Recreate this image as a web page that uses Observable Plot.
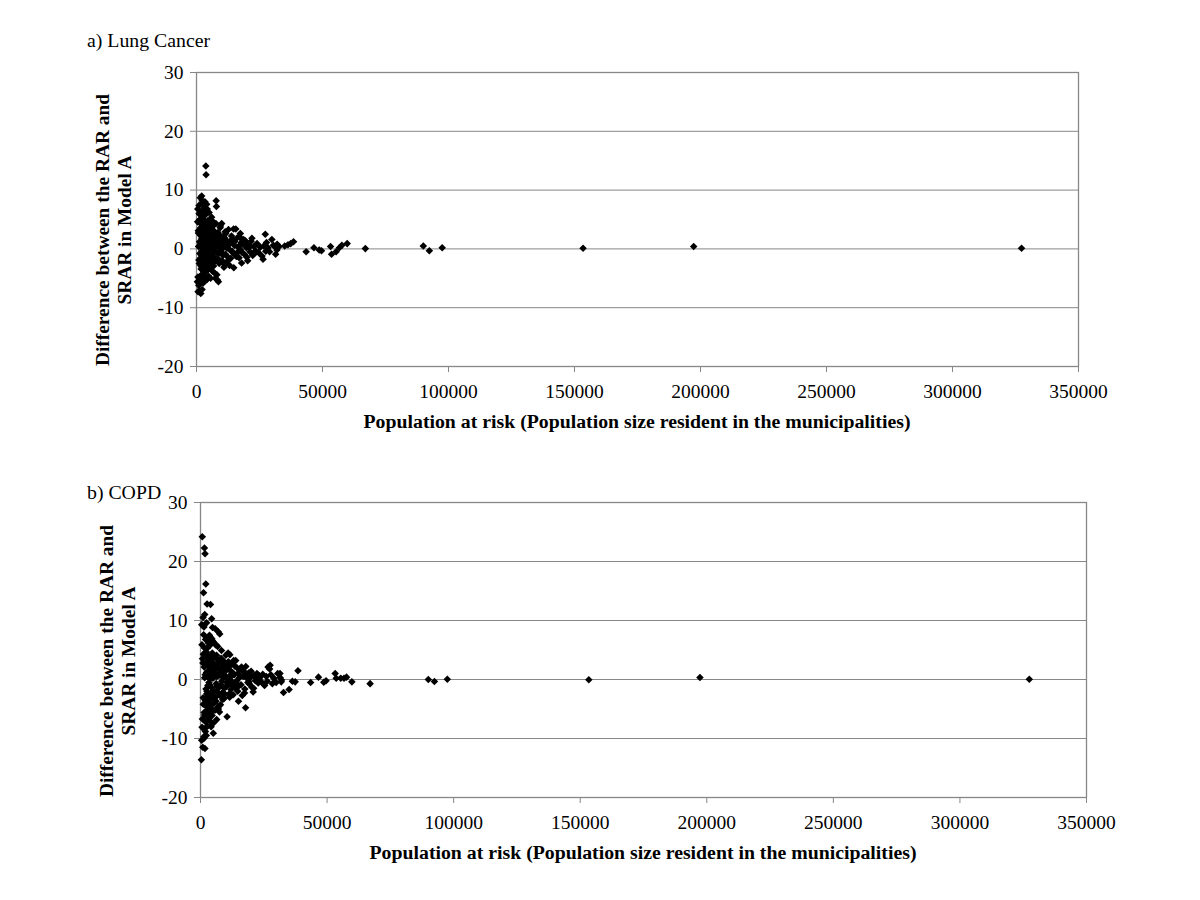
<!DOCTYPE html>
<html>
<head>
<meta charset="utf-8">
<script src="https://cdn.jsdelivr.net/npm/d3@7"></script>
<script src="https://cdn.jsdelivr.net/npm/@observablehq/plot@0.6"></script>
<style>
  body { margin: 0; background: #fff; }
  #page { position: relative; width: 1200px; height: 900px; font-family: "Liberation Serif", "Times New Roman", serif; color: #000; overflow: hidden; }
  #page svg text { font-family: "Liberation Serif", "Times New Roman", serif !important; }
  .svgbox { position: absolute; left: 0; }
  .ptitle { position: absolute; font-size: 19.8px; line-height: 20px; white-space: nowrap; }
  .xlab { position: absolute; width: 800px; text-align: center; font-weight: bold; font-size: 19.8px; line-height: 20px; white-space: nowrap; }
  .ylab { position: absolute; width: 340px; height: 44px; text-align: center; font-weight: bold; font-size: 19.4px; line-height: 22px; white-space: nowrap; transform: rotate(-90deg); }
</style>
</head>
<body>
<div id="page"></div>
<script>
// Population at risk (resident population of each municipality), shared by both panels
const population = [
  8900, 9300, 9800, 10400, 11000, 11400, 12100, 12800, 13500, 14300,
  15100, 15800, 16700, 17400, 18100, 19200, 20000, 21000, 22000, 23000,
  1150, 1320, 1680, 2080, 2380, 2680, 2880, 3080, 3380, 3580,
  350, 500, 620, 700, 800, 900, 1000, 1100, 1200, 1300,
  1350, 1400, 1500, 1550, 1600, 1700, 1750, 1800, 1850, 1900,
  2000, 2050, 2100, 2150, 2200, 2300, 2350, 2400, 2450, 2500,
  450, 580, 750, 950, 1050, 1250, 1450, 1650, 1950, 2250,
  2600, 2650, 2700, 2800, 2850, 2900, 3000, 3050, 3100, 3200,
  2550, 2750, 2950, 3150, 3350, 3550, 3650, 3850, 3950, 4150,
  3250, 3300, 3400, 3450, 3500, 3600, 3700, 3750, 3800, 3900,
  4000, 4050, 4100, 4200, 4300, 4350, 4400, 4500, 4600, 4650,
  4250, 4450, 4550, 4750, 4850, 5050, 5250, 5450, 5650, 5950,
  4700, 4800, 4900, 5000, 5100, 5200, 5300, 5400, 5500, 5600,
  5700, 5800, 5900, 6000, 6100, 6200, 6300, 6400, 6500, 6600,
  6700, 6800, 6900, 7000, 7100, 7200, 7400, 7500, 7600, 7800,
  6150, 6350, 6450, 6750, 7050, 7300, 7700, 8100, 8400, 8700,
  7900, 8000, 8200, 8300, 8500, 8600, 8800, 9000, 9200, 9400,
  9500, 9700, 9900, 10000, 10200, 10300, 10500, 10700, 10900, 11100,
  11300, 11500, 11600, 11800, 12000, 12200, 12500, 12700, 12900, 13100,
  13300, 13600, 13900, 14100, 14400, 14700, 14800, 15000, 15300, 15600,
  16000, 16200, 16500, 16900, 17200, 17500, 17800, 17900, 18300, 18700,
  19000, 19400, 19800, 20300, 20800, 21200, 21700, 22300, 22800, 23400,
  24000, 24600, 25300, 26000, 26400, 26700, 27300, 27500, 27800, 28400,
  29000, 29900, 30500, 31400, 31500, 31900, 32000, 32800, 35000, 36300,
  37400, 38500, 43500, 46600, 48700, 49600, 53200, 53600, 55400, 56700,
  57700, 59800, 67000, 90000, 92400, 97500, 153400, 197300, 327400
];

// a) Lung Cancer: difference between RAR and SRAR (Model A)
const lungCancerDiff = [
  -1.8, 2.3, -0.2, 1.0, -2.6, 2.9, 0.1, -1.9, 1.4, -0.6,
  1.2, -1.3, 0.4, 2.6, -0.6, 1.0, -1.4, 0.3, 1.8, -0.8,
  -7.1, 5.0, -2.8, 2.9, -4.9, 6.4, -0.1, 3.3, -5.4, 1.7,
  -5.6, 6.8, -7.3, 3.1, 0.4, -6.2, 7.4, -2.5, 1.2, -0.8,
  5.9, -5.1, 8.7, -1.6, 2.3, -7.6, 0.9, 6.3, -3.4, 4.2,
  -4.4, 9.0, 1.8, -0.3, -6.9, 5.2, -2.0, 7.8, 0.2, -1.1,
  4.6, -4.8, 2.7, -1.9, 6.0, -5.4, 0.6, 3.6, -3.0, 8.2,
  3.8, -5.8, 6.6, -1.4, 1.0, 4.9, -3.9, 0.1, 7.1, -2.7,
  -0.6, 5.5, -4.2, 2.0, 8.0, -2.2, 0.8, 3.0, -1.3, 6.1,
  1.5, -4.9, 4.4, -0.9, 5.8, 2.6, 14.1, -3.1, 12.6, 0.3,
  -2.4, 7.6, 1.1, -5.2, 3.3, -0.5, 4.8, -1.8, 2.1, 0.0,
  6.8, -3.6, 1.6, -1.0, 3.9, 0.5, -2.6, 5.0, -0.2, 2.4,
  -4.6, 2.9, -0.7, 6.2, 1.4, -3.3, 0.7, 4.1, -1.6, -5.0,
  3.5, -2.1, 0.9, 5.4, -0.4, 2.2, -3.8, 1.3, -1.2, 4.6,
  0.2, -2.9, 3.1, -0.6, 1.9, -4.1, 0.4, -5.0, 2.6, 8.2,
  -1.5, 3.8, 0.6, -2.3, 1.7, -0.3, 4.3, -4.4, 2.4, -5.6,
  7.2, -1.7, 1.0, -5.3, 2.8, -0.8, 0.3, -2.5, 1.6, 3.6,
  3.9, -0.5, 1.3, 4.3, -2.0, 0.7, -1.1, 2.0, -3.1, 0.4,
  1.8, -0.9, 2.6, -2.3, 0.5, 1.2, -1.4, 3.3, 0.0, -2.8,
  0.9, -1.6, 2.2, -0.4, 1.5, 3.4, -3.2, 0.6, -1.0, 3.4,
  -0.7, 1.9, 0.3, -1.5, 2.0, -0.2, 1.1, -2.4, 0.8, 1.6,
  -0.9, 1.4, 0.2, -2.0, 0.7, -0.5, 1.3, -1.1, 0.4, -0.3,
  0.9, -0.6, 0.3, -1.2, -1.75, 0.5, 2.5, -0.4, 1.1, 0.2,
  -0.5, 1.6, 0.6, -0.9, 0.3, -0.2, 0.8, 0.4, 0.5, 0.7,
  0.9, 1.2, -0.5, 0.2, -0.2, -0.3, 0.4, -0.9, -0.5, 0.2,
  0.6, 0.9, 0.05, 0.5, -0.3, 0.2, 0.1, 0.4, 0.1
];

// b) COPD: difference between RAR and SRAR (Model A)
const copdDiff = [
  2.7, -3.2, 1.4, -0.5, 3.0, -2.4, 0.9, -1.0, 2.3, -0.2,
  -1.1, 0.6, 1.5, -2.3, 0.9, -0.4, 1.4, -1.5, 0.2, 0.7,
  4.3, -9.7, 11.0, -4.1, 9.6, -2.9, 7.0, -6.0, 3.9, -0.9,
  -13.6, 9.3, -8.1, 24.2, 3.5, -11.5, 10.5, -4.2, 14.7, -10.0,
  8.9, -8.4, 2.1, 22.3, -6.0, 5.3, -11.7, 21.3, 0.8, -3.5,
  6.8, -7.2, 16.2, -1.6, 4.4, -9.5, 1.2, -5.3, 3.0, -2.4,
  -10.3, 5.9, -6.7, 2.8, -3.1, 7.6, -5.6, 0.3, -8.8, 4.7,
  12.8, -4.7, 2.5, -7.9, 5.4, -1.0, -6.3, 3.7, 0.9, -3.9,
  -2.0, 4.0, -5.1, 6.2, -0.5, 7.5, -7.0, 1.9, 12.7, -4.4,
  1.4, -6.6, 7.3, -2.8, 3.3, -5.9, 0.1, 5.8, -3.2, 2.2,
  -4.8, 7.1, 1.0, -8.0, 3.1, -2.2, 10.3, 0.6, -6.1, 4.5,
  -1.3, 6.9, -5.4, 8.8, 2.7, -9.1, 0.4, -3.6, 1.8, 5.9,
  6.6, -2.6, 0.2, -7.4, 3.8, 6.3, -4.0, 1.5, -1.9, 2.6,
  -5.2, 8.6, 1.1, -3.0, 5.9, -0.7, 2.0, -6.8, 0.5, 3.4,
  -2.1, 5.6, -4.6, 8.1, 0.9, -1.4, 2.9, -5.5, 7.7, 1.6,
  -3.7, 4.1, -1.1, 2.3, -5.0, 0.7, -2.7, 3.6, -0.3, 1.3,
  -4.3, 2.4, -0.9, 4.9, -2.3, 1.0, -3.4, 0.3, 3.1, -1.5,
  1.9, -2.5, 0.6, 4.1, -1.2, 2.2, -6.3, 0.0, 4.5, -0.8,
  1.7, -3.0, 4.2, 0.4, -1.7, 2.5, -0.4, 1.2, -2.6, 3.2,
  0.8, -1.4, 3.2, -0.6, 2.0, -2.0, 1.0, -3.7, 0.3, 1.8,
  -0.9, 2.1, -2.7, 0.5, 1.3, -1.6, -4.8, 2.2, 0.2, -0.5,
  1.1, -0.8, 0.4, -1.3, -2.1, 0.7, -0.2, 1.0, -0.6, 0.3,
  -0.4, 0.9, -1.0, 0.5, -0.3, 2.1, 1.8, 2.4, 0.8, -0.7,
  0.2, -0.5, 1.0, 1.0, 0.3, -0.4, -0.1, -2.2, -1.7, -0.3,
  -0.4, 1.5, -0.5, 0.4, -0.45, -0.2, 1.0, 0.2, 0.2, 0.2,
  0.4, -0.4, -0.7, 0.0, -0.35, 0.05, -0.05, 0.35, 0.05
];

const xTicks = [0, 50000, 100000, 150000, 200000, 250000, 300000, 350000];
const yTicks = [-20, -10, 0, 10, 20, 30];
const yGrid = [-10, 0, 10, 20];

const panelTitles = ["a) Lung Cancer", "b) COPD"];
const xTitle = "Population at risk (Population size resident in the municipalities)";
const yTitleLines = ["Difference between the RAR and", "SRAR in Model A"];

const page = document.getElementById("page");
const GRAY = "#878787";

function makePanel(values, cfg) {
  const data = population.map((p, i) => ({pop: p, diff: values[i]}));
  const chart = Plot.plot({
    width: 1200,
    height: 420,
    marginLeft: cfg.ml, marginRight: cfg.mr, marginTop: cfg.mt, marginBottom: cfg.mb,
    style: {fontFamily: "Liberation Serif", fontSize: "19.5px", color: "#000", background: "transparent", overflow: "visible"},
    x: {domain: [0, 350000]},
    y: {domain: [-20, 30]},
    marks: [
      Plot.gridY(yGrid, {stroke: GRAY, strokeOpacity: 1, strokeWidth: 1}),
      Plot.frame({stroke: GRAY, strokeWidth: 1.3}),
      Plot.axisX({ticks: xTicks, tickSize: 6, tickPadding: 12, tickFormat: d => String(d), stroke: GRAY, label: null}),
      Plot.axisY({ticks: yTicks, tickSize: 6, tickPadding: 7, tickFormat: d => String(d), stroke: GRAY, label: null}),
      Plot.dot(data, {x: "pop", y: "diff", symbol: "diamond2", r: 3.4, fill: "#000", stroke: "none"})
    ]
  });
  const box = document.createElement("div");
  box.className = "svgbox";
  box.style.top = cfg.top + "px";
  box.appendChild(chart);
  page.appendChild(box);

  const t = document.createElement("div");
  t.className = "ptitle";
  t.style.left = "87px";
  t.style.top = cfg.titleTop + "px";
  t.textContent = cfg.title;
  page.appendChild(t);

  const xl = document.createElement("div");
  xl.className = "xlab";
  xl.style.left = (cfg.xlCenter - 400) + "px";
  xl.style.top = cfg.xlTop + "px";
  xl.textContent = xTitle;
  page.appendChild(xl);

  const yl = document.createElement("div");
  yl.className = "ylab";
  yl.style.left = (cfg.ylX - 170) + "px";
  yl.style.top = (cfg.ylY - 22) + "px";
  yl.innerHTML = yTitleLines.map(s => "<div>" + s + "</div>").join("");
  page.appendChild(yl);
}

makePanel(lungCancerDiff, {top: 40, ml: 196, mr: 122, mt: 32, mb: 94, title: panelTitles[0], titleTop: 30, xlCenter: 637, xlTop: 411, ylX: 114, ylY: 230});
makePanel(copdDiff, {top: 470, ml: 200, mr: 114, mt: 32, mb: 93, title: panelTitles[1], titleTop: 482, xlCenter: 643, xlTop: 842, ylX: 118, ylY: 661});
</script>
</body>
</html>
